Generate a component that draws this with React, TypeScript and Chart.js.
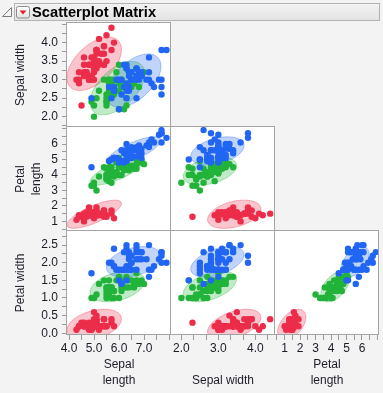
import React, { useEffect, useRef } from 'react';
import { Chart, registerables } from 'chart.js';

Chart.register(...registerables);

// ---------------- data (Fisher's iris) ----------------
const speciesNames = ['Setosa', 'Versicolor', 'Virginica'];

const setosaSepalLength = [5.1,4.9,4.7,4.6,5.0,5.4,4.6,5.0,4.4,4.9,5.4,4.8,4.8,4.3,5.8,5.7,5.4,5.1,5.7,5.1,5.4,5.1,4.6,5.1,4.8,5.0,5.0,5.2,5.2,4.7,4.8,5.4,5.2,5.5,4.9,5.0,5.5,4.9,4.4,5.1,5.0,4.5,4.4,5.0,5.1,4.8,5.1,4.6,5.3,5.0];
const setosaSepalWidth = [3.5,3.0,3.2,3.1,3.6,3.9,3.4,3.4,2.9,3.1,3.7,3.4,3.0,3.0,4.0,4.4,3.9,3.5,3.8,3.8,3.4,3.7,3.6,3.3,3.4,3.0,3.4,3.5,3.4,3.2,3.1,3.4,4.1,4.2,3.1,3.2,3.5,3.6,3.0,3.4,3.5,2.3,3.2,3.5,3.8,3.0,3.8,3.2,3.7,3.3];
const setosaPetalLength = [1.4,1.4,1.3,1.5,1.4,1.7,1.4,1.5,1.4,1.5,1.5,1.6,1.4,1.1,1.2,1.5,1.3,1.4,1.7,1.5,1.7,1.5,1.0,1.7,1.9,1.6,1.6,1.5,1.4,1.6,1.6,1.5,1.5,1.4,1.5,1.2,1.3,1.4,1.3,1.5,1.3,1.3,1.3,1.6,1.9,1.4,1.6,1.4,1.5,1.4];
const setosaPetalWidth = [0.2,0.2,0.2,0.2,0.2,0.4,0.3,0.2,0.2,0.1,0.2,0.2,0.1,0.1,0.2,0.4,0.4,0.3,0.3,0.3,0.2,0.4,0.2,0.5,0.2,0.2,0.4,0.2,0.2,0.2,0.2,0.4,0.1,0.2,0.2,0.2,0.2,0.1,0.2,0.2,0.3,0.3,0.2,0.6,0.4,0.3,0.2,0.2,0.2,0.2];

const versicolorSepalLength = [7.0,6.4,6.9,5.5,6.5,5.7,6.3,4.9,6.6,5.2,5.0,5.9,6.0,6.1,5.6,6.7,5.6,5.8,6.2,5.6,5.9,6.1,6.3,6.1,6.4,6.6,6.8,6.7,6.0,5.7,5.5,5.5,5.8,6.0,5.4,6.0,6.7,6.3,5.6,5.5,5.5,6.1,5.8,5.0,5.6,5.7,5.7,6.2,5.1,5.7];
const versicolorSepalWidth = [3.2,3.2,3.1,2.3,2.8,2.8,3.3,2.4,2.9,2.7,2.0,3.0,2.2,2.9,2.9,3.1,3.0,2.7,2.2,2.5,3.2,2.8,2.5,2.8,2.9,3.0,2.8,3.0,2.9,2.6,2.4,2.4,2.7,2.7,3.0,3.4,3.1,2.3,3.0,2.5,2.6,3.0,2.6,2.3,2.7,3.0,2.9,2.9,2.5,2.8];
const versicolorPetalLength = [4.7,4.5,4.9,4.0,4.6,4.5,4.7,3.3,4.6,3.9,3.5,4.2,4.0,4.7,3.6,4.4,4.5,4.1,4.5,3.9,4.8,4.0,4.9,4.7,4.3,4.4,4.8,5.0,4.5,3.5,3.8,3.7,3.9,5.1,4.5,4.5,4.7,4.4,4.1,4.0,4.4,4.6,4.0,3.3,4.2,4.2,4.2,4.3,3.0,4.1];
const versicolorPetalWidth = [1.4,1.5,1.5,1.3,1.5,1.3,1.6,1.0,1.3,1.4,1.0,1.5,1.0,1.4,1.3,1.4,1.5,1.0,1.5,1.1,1.8,1.3,1.5,1.2,1.3,1.4,1.4,1.7,1.5,1.0,1.1,1.0,1.2,1.6,1.5,1.6,1.5,1.3,1.3,1.3,1.2,1.4,1.2,1.0,1.3,1.2,1.3,1.3,1.1,1.3];

const virginicaSepalLength = [6.3,5.8,7.1,6.3,6.5,7.6,4.9,7.3,6.7,7.2,6.5,6.4,6.8,5.7,5.8,6.4,6.5,7.7,7.7,6.0,6.9,5.6,7.7,6.3,6.7,7.2,6.2,6.1,6.4,7.2,7.4,7.9,6.4,6.3,6.1,7.7,6.3,6.4,6.0,6.9,6.7,6.9,5.8,6.8,6.7,6.7,6.3,6.5,6.2,5.9];
const virginicaSepalWidth = [3.3,2.7,3.0,2.9,3.0,3.0,2.5,2.9,2.5,3.6,3.2,2.7,3.0,2.5,2.8,3.2,3.0,3.8,2.6,2.2,3.2,2.8,2.8,2.7,3.3,3.2,2.8,3.0,2.8,3.0,2.8,3.8,2.8,2.8,2.6,3.0,3.4,3.1,3.0,3.1,3.1,3.1,2.7,3.2,3.3,3.0,2.5,3.0,3.4,3.0];
const virginicaPetalLength = [6.0,5.1,5.9,5.6,5.8,6.6,4.5,6.3,5.8,6.1,5.1,5.3,5.5,5.0,5.1,5.3,5.5,6.7,6.9,5.0,5.7,4.9,6.7,4.9,5.7,6.0,4.8,4.9,5.6,5.8,6.1,6.4,5.6,5.1,5.6,6.1,5.6,5.5,4.8,5.4,5.6,5.1,5.1,5.9,5.7,5.2,5.0,5.2,5.4,5.1];
const virginicaPetalWidth = [2.5,1.9,2.1,1.8,2.2,2.1,1.7,1.8,1.8,2.5,2.0,1.9,2.1,2.0,2.4,2.3,1.8,2.2,2.3,1.5,2.3,2.0,2.0,1.8,2.1,1.8,1.8,1.8,2.1,1.6,1.9,2.0,2.2,1.5,1.4,2.3,2.4,1.8,1.8,2.1,2.4,2.3,1.9,2.3,2.5,2.3,1.9,2.0,2.3,1.8];

const sepalLength = [setosaSepalLength, versicolorSepalLength, virginicaSepalLength];
const sepalWidth = [setosaSepalWidth, versicolorSepalWidth, virginicaSepalWidth];
const petalLength = [setosaPetalLength, versicolorPetalLength, virginicaPetalLength];
const petalWidth = [setosaPetalWidth, versicolorPetalWidth, virginicaPetalWidth];

// tick values and labels
const sepalLengthTicks = [4.0, 4.5, 5.0, 5.5, 6.0, 6.5, 7.0, 7.5, 8.0];
const sepalLengthLabels = ['4.0', '', '5.0', '', '6.0', '', '7.0', '', ''];
const sepalWidthXTicks = [2.0, 2 + 1 / 3, 2 + 2 / 3, 3.0, 3 + 1 / 3, 3 + 2 / 3, 4.0, 4 + 1 / 3];
const sepalWidthXLabels = ['2.0', '', '', '3.0', '', '', '4.0', ''];
const sepalWidthYTicks = [1.75, 2.0, 2.25, 2.5, 2.75, 3.0, 3.25, 3.5, 3.75, 4.0, 4.25, 4.5];
const sepalWidthYLabels = ['', '2.0', '', '2.5', '', '3.0', '', '3.5', '', '4.0', '', ''];
const petalLengthTicks = [0.5, 1, 1.5, 2, 2.5, 3, 3.5, 4, 4.5, 5, 5.5, 6, 6.5, 7];
const petalLengthLabels = ['', '1', '', '2', '', '3', '', '4', '', '5', '', '6', '', ''];
const petalWidthTicks = [0, 0.25, 0.5, 0.75, 1.0, 1.25, 1.5, 1.75, 2.0, 2.25, 2.5, 2.75];
const petalWidthLabels = ['0.0', '', '0.5', '', '1.0', '', '1.5', '', '2.0', '', '2.5', ''];

// ---------------- styles ----------------
const FONT = '"Liberation Sans", Arial, sans-serif';
const TEXT = '#1c1c28';
const pointColors = ['#ec2d4a', '#22b33a', '#2166f3'];
const fillColors = ['rgba(236,45,74,0.28)', 'rgba(34,179,58,0.28)', 'rgba(33,102,243,0.28)'];
const edgeColors = ['rgba(236,45,74,0.35)', 'rgba(34,179,58,0.35)', 'rgba(33,102,243,0.35)'];
const ELLIPSE_SCALE = 2.12;

// cells: [row (y variable), col (x variable)]
const cells = [[0, 0], [1, 0], [1, 1], [2, 0], [2, 1], [2, 2]];
const xVars = [sepalLength, sepalWidth, petalLength];
const yVars = [sepalWidth, petalLength, petalWidth];

function mean(a: number[]) {
  return a.reduce((s, v) => s + v, 0) / a.length;
}

function pooled(xs: number[][], ys: number[][]) {
  let sxx = 0, syy = 0, sxy = 0, n = 0;
  const means = xs.map((xa, g) => {
    const ya = ys[g];
    const mx = mean(xa), my = mean(ya);
    xa.forEach((x, k) => {
      const dx = x - mx, dy = ya[k] - my;
      sxx += dx * dx; syy += dy * dy; sxy += dx * dy;
    });
    n += xa.length;
    return [mx, my];
  });
  const df = n - xs.length;
  return { means, sxx: sxx / df, syy: syy / df, sxy: sxy / df };
}

const cellPlugin = {
  id: 'cellPlugin',
  beforeDatasetsDraw(chart: any) {
    const ctx = chart.ctx;
    ctx.save();
    for (const [r, c] of cells) {
      const xs = chart.scales['x' + c];
      const ys = chart.scales['y' + r];
      const l = Math.round(xs.left), rt = Math.round(xs.right);
      const t = Math.round(ys.top), b = Math.round(ys.bottom);
      ctx.fillStyle = '#ffffff';
      ctx.fillRect(l, t, rt - l, b - t);
    }
    for (const [r, c] of cells) {
      const xs = chart.scales['x' + c];
      const ys = chart.scales['y' + r];
      const l = Math.round(xs.left), rt = Math.round(xs.right);
      const t = Math.round(ys.top), b = Math.round(ys.bottom);
      ctx.save();
      ctx.beginPath();
      ctx.rect(l, t, rt - l, b - t);
      ctx.clip();
      const p = pooled(xVars[c], yVars[r]);
      const l11 = Math.sqrt(p.sxx);
      const l21 = p.sxy / l11;
      const l22 = Math.sqrt(Math.max(p.syy - l21 * l21, 0));
      p.means.forEach(([mx, my], g) => {
        ctx.beginPath();
        for (let k = 0; k <= 96; k++) {
          const a = (k / 96) * Math.PI * 2;
          const u = Math.cos(a), v = Math.sin(a);
          const vx = mx + ELLIPSE_SCALE * l11 * u;
          const vy = my + ELLIPSE_SCALE * (l21 * u + l22 * v);
          const px = xs.getPixelForValue(vx);
          const py = ys.getPixelForValue(vy);
          if (k === 0) ctx.moveTo(px, py); else ctx.lineTo(px, py);
        }
        ctx.closePath();
        ctx.fillStyle = fillColors[g];
        ctx.fill();
        ctx.strokeStyle = edgeColors[g];
        ctx.lineWidth = 1;
        ctx.stroke();
      });
      ctx.restore();
    }
    ctx.restore();
  },
  afterDatasetsDraw(chart: any) {
    const ctx = chart.ctx;
    ctx.save();
    ctx.strokeStyle = '#a4a4a4';
    ctx.lineWidth = 1;
    for (const [r, c] of cells) {
      const xs = chart.scales['x' + c];
      const ys = chart.scales['y' + r];
      const l = Math.round(xs.left), rt = Math.round(xs.right);
      const t = Math.round(ys.top), b = Math.round(ys.bottom);
      ctx.strokeRect(l - 0.5, t - 0.5, rt - l, b - t);
    }
    ctx.restore();
  },
};

function axis(opts: {
  position: 'left' | 'bottom';
  min: number; max: number;
  ticks: number[]; labels: string[];
  title: string | string[];
  weight: number;
}) {
  const isX = opts.position === 'bottom';
  return {
    type: 'linear',
    position: opts.position,
    stack: isX ? 'xs' : 'ys',
    stackWeight: 1,
    weight: opts.weight,
    min: opts.min,
    max: opts.max,
    bounds: 'data',
    afterBuildTicks: (scale: any) => {
      scale.ticks = opts.ticks.map((v) => ({ value: v }));
    },
    afterFit: (scale: any) => {
      if (isX) scale.height = 58; else scale.width = 67;
    },
    grid: {
      drawOnChartArea: false,
      drawTicks: true,
      tickLength: 5,
      color: '#9a9a9a',
      lineWidth: 1,
    },
    border: { display: false },
    ticks: {
      autoSkip: false,
      maxRotation: 0,
      minRotation: 0,
      padding: isX ? 1 : 4,
      color: TEXT,
      font: { family: FONT, size: 12 },
      callback: (_v: any, i: number) => opts.labels[i] ?? '',
    },
    title: {
      display: true,
      text: opts.title,
      color: TEXT,
      font: { family: FONT, size: 12, lineHeight: 16 / 12 },
      padding: isX ? { top: 0, bottom: 4 } : { top: 13, bottom: 0 },
    },
  };
}

export default function App() {
  const ref = useRef<HTMLCanvasElement | null>(null);

  useEffect(() => {
    if (!ref.current) return;
    const datasets: any[] = [];
    for (const [r, c] of cells) {
      speciesNames.forEach((name, g) => {
        const xa = xVars[c][g];
        const ya = yVars[r][g];
        datasets.push({
          label: name,
          data: xa.map((x, k) => ({ x, y: ya[k] })),
          xAxisID: 'x' + c,
          yAxisID: 'y' + r,
          backgroundColor: pointColors[g],
          borderColor: pointColors[g],
          borderWidth: 0,
          pointRadius: 3.2,
          pointHoverRadius: 3.2,
          order: 2 - g,
        });
      });
    }
    const chart = new Chart(ref.current, {
      type: 'scatter',
      data: { datasets },
      options: {
        responsive: false,
        animation: false,
        devicePixelRatio: 1,
        events: [],
        layout: { padding: { left: 0, top: 23, right: 4, bottom: 0 } },
        plugins: { legend: { display: false }, tooltip: { enabled: false } },
        scales: {
          y0: axis({ position: 'left', min: 1.72, max: 4.53, ticks: sepalWidthYTicks, labels: sepalWidthYLabels, title: 'Sepal width', weight: 3 }),
          y1: axis({ position: 'left', min: 0.38, max: 7.1, ticks: petalLengthTicks, labels: petalLengthLabels, title: ['Petal', 'length'], weight: 2 }),
          y2: axis({ position: 'left', min: -0.05, max: 2.9, ticks: petalWidthTicks, labels: petalWidthLabels, title: 'Petal width', weight: 1 }),
          x0: axis({ position: 'bottom', min: 3.92, max: 8.08, ticks: sepalLengthTicks, labels: sepalLengthLabels, title: ['Sepal', 'length'], weight: 1 }),
          x1: axis({ position: 'bottom', min: 1.72, max: 4.53, ticks: sepalWidthXTicks, labels: sepalWidthXLabels, title: 'Sepal width', weight: 2 }),
          x2: axis({ position: 'bottom', min: 0.38, max: 7.1, ticks: petalLengthTicks, labels: petalLengthLabels, title: ['Petal', 'length'], weight: 3 }),
        } as any,
      },
      plugins: [cellPlugin],
    } as any);
    return () => chart.destroy();
  }, []);

  return (
    <div style={{ position: 'fixed', left: 0, top: 0, width: 383, height: 393, background: '#f3f3f3', overflow: 'hidden', fontFamily: FONT }}>
      <canvas ref={ref} width={383} height={393} style={{ position: 'absolute', left: 0, top: 0, width: 383, height: 393 }} />
      <svg width={12} height={12} style={{ position: 'absolute', left: 1, top: 6 }}>
        <path d="M1.5 10.5 L10.5 1.5 L10.5 10.5 Z" fill="#f6f6f6" stroke="#7a7a7a" strokeWidth={1} />
      </svg>
      <div style={{ position: 'absolute', left: 14, top: 3, width: 366, height: 18, boxSizing: 'border-box', border: '1px solid #b3b3b3', background: 'linear-gradient(#f2f2f2, #e4e4e4)' }} />
      <svg width={15} height={13} style={{ position: 'absolute', left: 16, top: 6 }}>
        <defs>
          <linearGradient id="btn" x1="0" y1="0" x2="0" y2="1">
            <stop offset="0" stopColor="#ffffff" />
            <stop offset="1" stopColor="#e2e2e2" />
          </linearGradient>
        </defs>
        <rect x={0.5} y={0.5} width={13} height={11.5} rx={2} fill="url(#btn)" stroke="#8c8c8c" />
        <path d="M3.5 4.5 L10.5 4.5 L7 8.5 Z" fill="#e0202e" />
      </svg>
      <div style={{ position: 'absolute', left: 32, top: 3, height: 18, lineHeight: '18px', fontSize: 14.7, fontWeight: 'bold', color: '#000', whiteSpace: 'nowrap' }}>
        Scatterplot Matrix
      </div>
    </div>
  );
}
